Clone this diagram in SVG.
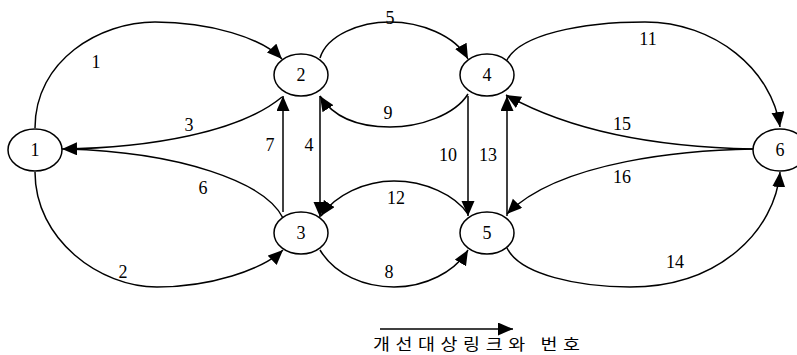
<svg xmlns="http://www.w3.org/2000/svg" width="797" height="355" viewBox="0 0 797 355">
<style>
.n ellipse{fill:#fff;stroke:#000;stroke-width:1.5}
.t{font-family:"Liberation Serif","DejaVu Serif","Times New Roman",serif;font-size:18px;text-anchor:middle;fill:#000}
.e path{fill:none;stroke:#000;stroke-width:1.5}
.lg{font-family:"Noto Sans CJK KR","Noto Sans CJK SC",sans-serif;font-size:16px;fill:#000}
</style>
<defs>
<marker id="ar" markerUnits="userSpaceOnUse" markerWidth="16" markerHeight="14" refX="15" refY="6.5" orient="auto" viewBox="0 0 16 14">
<path d="M0,0 L15,6.5 L0,13 z" fill="#000"/>
</marker>
</defs>
<g id="connectors" class="e">
<path id="e1" d="M35,128 C35,60 100,22 155,22 C210,22 262,38 282,59" marker-end="url(#ar)"/>
<path id="e2" d="M35,172 C35,240 100,287 157,287 C210,287 262,270 283,250" marker-end="url(#ar)"/>
<path id="e3" d="M282,97 C240,132 150,148 62,149" marker-end="url(#ar)"/>
<path id="e6" d="M283,218 C265,182 180,152 66,149"/>
<path id="e7" d="M283,212 L283,96" marker-end="url(#ar)"/>
<path id="e4" d="M320,96 L320,217" marker-end="url(#ar)"/>
<path id="e5" d="M320,58 C327,35 360,22 390,22 C420,22 455,35 468,59" marker-end="url(#ar)"/>
<path id="e9" d="M468,94 C455,115 420,127 390,127 C355,127 332,115 320,96" marker-end="url(#ar)"/>
<path id="e10" d="M468,96 L468,216" marker-end="url(#ar)"/>
<path id="e13" d="M507,216 L507,96" marker-end="url(#ar)"/>
<path id="e11" d="M507,60 C520,35 580,22 645,22 C715,22 772,70 780,127" marker-end="url(#ar)"/>
<path id="e15" d="M753,149 C700,148 590,142 506,95" marker-end="url(#ar)"/>
<path id="e16" d="M753,149 C690,150 560,160 507,214" marker-end="url(#ar)"/>
<path id="e14" d="M507,248 C520,275 580,287 630,287 C720,287 775,230 780,172" marker-end="url(#ar)"/>
<path id="e12" d="M468,214 C455,195 425,181 394,181 C365,181 335,195 321,216" marker-end="url(#ar)"/>
<path id="e8" d="M320,250 C335,275 365,287 394,287 C425,287 455,272 468,250" marker-end="url(#ar)"/>
</g>
<g id="edge-labels">
<text class="t" x="96" y="68">1</text>
<text class="t" x="123" y="278">2</text>
<text class="t" x="189" y="131">3</text>
<text class="t" x="309" y="151">4</text>
<text class="t" x="390" y="24">5</text>
<text class="t" x="203" y="194">6</text>
<text class="t" x="270" y="151">7</text>
<text class="t" x="389" y="278">8</text>
<text class="t" x="388" y="119">9</text>
<text class="t" x="448" y="161">10</text>
<text class="t" x="648" y="45">11</text>
<text class="t" x="396" y="204">12</text>
<text class="t" x="488" y="161">13</text>
<text class="t" x="675" y="268">14</text>
<text class="t" x="622" y="130">15</text>
<text class="t" x="622" y="183">16</text>
</g>
<g id="node1" class="n"><ellipse cx="35" cy="150" rx="27" ry="21"/><text class="t" x="35" y="156">1</text></g>
<g id="node2" class="n"><ellipse cx="301" cy="75" rx="27" ry="21"/><text class="t" x="301" y="81">2</text></g>
<g id="node3" class="n"><ellipse cx="301" cy="233" rx="27" ry="21"/><text class="t" x="301" y="239">3</text></g>
<g id="node4" class="n"><ellipse cx="487" cy="75" rx="27" ry="21"/><text class="t" x="487" y="81">4</text></g>
<g id="node5" class="n"><ellipse cx="487" cy="233" rx="27" ry="21"/><text class="t" x="487" y="239">5</text></g>
<g id="node6" class="n"><ellipse cx="780" cy="150" rx="27" ry="21"/><text class="t" x="780" y="156">6</text></g>
<g id="legend">
<path d="M380,329 L513,329" stroke="#000" stroke-width="1.5" fill="none" marker-end="url(#ar)"/>
<text class="lg" transform="scale(1.15,1)" x="324.3" y="350" textLength="180" lengthAdjust="spacing">개선대상링크와 번호</text>
</g>
</svg>
